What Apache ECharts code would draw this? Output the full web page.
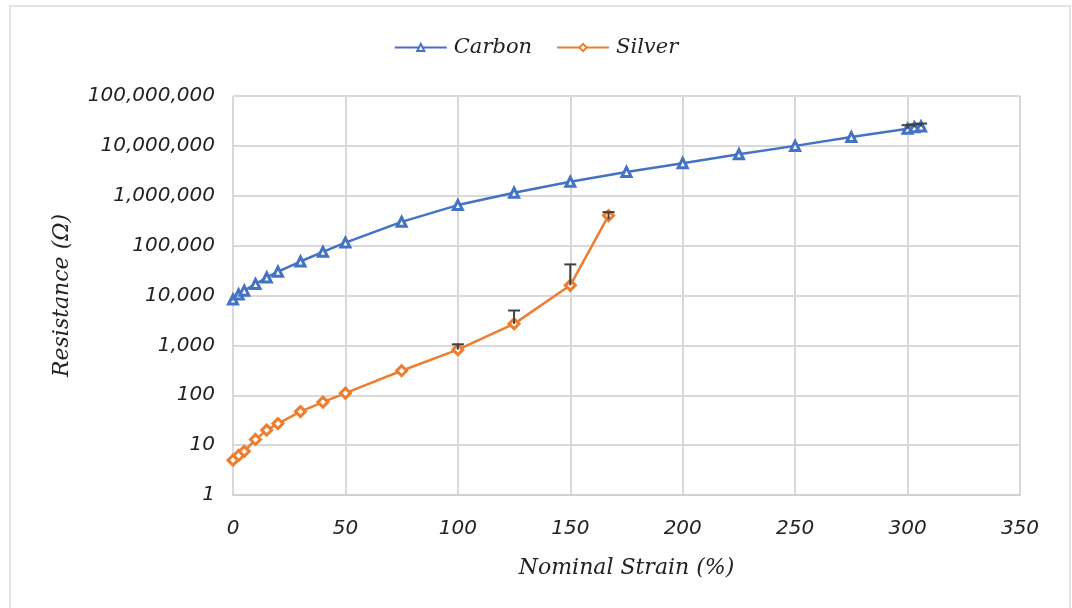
<!DOCTYPE html>
<html lang="en">
<head>
    <meta charset="UTF-8">
    <title>resistance_strain</title>
    <script src="https://cdn.jsdelivr.net/npm/echarts@6/dist/echarts.min.js"></script>
    <style>
        html, body { margin: 0; padding: 0; background: #fff; }
    </style>
</head>
<body>
<div id="chart" style="width:1072px;height:608px;"></div>
<script>
    // data
    var carbonStrain = [0, 2.5, 5, 10, 15, 20, 30, 40, 50, 75, 100, 125, 150, 175, 200, 225, 250, 275, 300, 303, 306];
    var carbonRes = [8300, 10500, 12500, 17000, 23000, 30000, 48000, 75000, 115000, 300000, 650000, 1150000,
        1900000, 3000000, 4500000, 6800000, 10000000, 15000000, 22000000, 23500000, 24500000];
    var carbonErrHigh = [0, 0, 0, 0, 0, 0, 0, 0, 0, 0, 0, 0, 0, 0, 0, 0, 0, 0, 26000000, 27000000, 28000000];

    var silverStrain = [0, 2.5, 5, 10, 15, 20, 30, 40, 50, 75, 100, 125, 150, 167];
    var silverRes = [5, 6.2, 7.5, 13, 20, 27, 47, 73, 110, 310, 820, 2700, 16000, 400000];
    var silverErrHigh = [0, 0, 0, 0, 0, 0, 0, 0, 0, 0, 1050, 5000, 42000, 470000];
    var silverErrLow = [0, 0, 0, 0, 0, 0, 0, 0, 0, 0, 0, 0, 0, 340000];

    var xTicks = [0, 50, 100, 150, 200, 250, 300, 350];

    var titleFont = 'DejaVu Serif';
    var tickFont = 'DejaVu Sans';

    function pairs(xs, ys) {
        return xs.map(function (x, i) { return [x, ys[i]]; });
    }
    function errRows(xs, ys, hi, lo) {
        var out = [];
        xs.forEach(function (x, i) {
            if (hi[i]) out.push([x, lo && lo[i] ? lo[i] : ys[i], hi[i]]);
        });
        return out;
    }
    function renderErr(params, api) {
        var top = api.coord([api.value(0), api.value(2)]);
        var bot = api.coord([api.value(0), api.value(1)]);
        var w = 6;
        var st = { stroke: '#404040', lineWidth: 2 };
        return {
            type: 'group',
            children: [
                { type: 'line', shape: { x1: top[0], y1: top[1], x2: bot[0], y2: bot[1] }, style: st },
                { type: 'line', shape: { x1: top[0] - w, y1: top[1], x2: top[0] + w, y2: top[1] }, style: st }
            ]
        };
    }

    var chart = echarts.init(document.getElementById('chart'));
    chart.setOption({
        animation: false,
        backgroundColor: '#fff',
        graphic: [{
            type: 'rect',
            shape: { x: 10, y: 6, width: 1060, height: 610 },
            style: { fill: 'none', stroke: '#d9d9d9', lineWidth: 1.5 },
            silent: true
        }],
        legend: {
            top: 32,
            left: 'center',
            itemWidth: 52,
            itemHeight: 9,
            itemGap: 24,
            textStyle: { fontFamily: titleFont, fontStyle: 'italic', fontSize: 21, color: '#222', padding: [0, 0, 0, 2] },
            data: ['Carbon', 'Silver']
        },
        grid: { left: 233, right: 52, top: 96, bottom: 113 },
        xAxis: {
            type: 'value',
            min: 0,
            max: 350,
            interval: 50,
            name: 'Nominal Strain (%)',
            nameLocation: 'middle',
            nameGap: 62,
            nameTextStyle: { fontFamily: titleFont, fontStyle: 'italic', fontSize: 22, color: '#222' },
            axisLine: { lineStyle: { color: '#d0d0d0', width: 2 } },
            axisTick: { show: false },
            splitLine: { lineStyle: { color: '#d9d9d9', width: 2 } },
            axisLabel: {
                margin: 24,
                fontFamily: tickFont, fontStyle: 'italic', fontSize: 20, color: '#222',
                formatter: function (v) { return xTicks.indexOf(v) >= 0 ? String(v) : ''; }
            }
        },
        yAxis: {
            type: 'log',
            logBase: 10,
            min: 1,
            max: 100000000,
            name: 'Resistance (Ω)',
            nameLocation: 'middle',
            nameGap: 160,
            nameTextStyle: { fontFamily: titleFont, fontStyle: 'italic', fontSize: 22, color: '#222' },
            axisLine: { show: false },
            axisTick: { show: false },
            splitLine: { lineStyle: { color: '#d9d9d9', width: 2 } },
            axisLabel: {
                margin: 18,
                fontFamily: tickFont, fontStyle: 'italic', fontSize: 20, color: '#222',
                formatter: function (v) { return Math.round(v).toLocaleString('en-US'); }
            }
        },
        series: [
            {
                name: 'Carbon',
                type: 'line',
                data: pairs(carbonStrain, carbonRes),
                symbol: 'triangle',
                symbolSize: 9,
                color: '#4472c4',
                lineStyle: { width: 2.5, color: '#4472c4' },
                itemStyle: { color: '#fff', borderColor: '#4472c4', borderWidth: 3 },
                z: 3
            },
            {
                name: 'Silver',
                type: 'line',
                data: pairs(silverStrain, silverRes),
                symbol: 'diamond',
                symbolSize: 10,
                color: '#ed7d31',
                lineStyle: { width: 2.5, color: '#ed7d31' },
                itemStyle: { color: '#fff', borderColor: '#ed7d31', borderWidth: 3 },
                z: 3
            },
            {
                type: 'custom',
                renderItem: renderErr,
                data: errRows(carbonStrain, carbonRes, carbonErrHigh),
                encode: { x: 0, y: [1, 2] },
                z: 4,
                silent: true
            },
            {
                type: 'custom',
                renderItem: renderErr,
                data: errRows(silverStrain, silverRes, silverErrHigh, silverErrLow),
                encode: { x: 0, y: [1, 2] },
                z: 4,
                silent: true
            }
        ]
    });
</script>
</body>
</html>
